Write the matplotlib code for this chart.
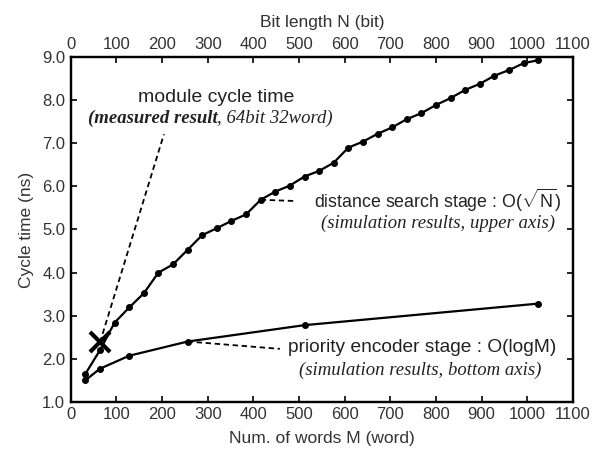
import matplotlib
matplotlib.use("Agg")
import matplotlib.pyplot as plt
from matplotlib.ticker import FormatStrFormatter, MultipleLocator

plt.rcParams['font.family'] = ['Liberation Sans', 'DejaVu Sans']
plt.rcParams['mathtext.fontset'] = 'custom'
plt.rcParams['mathtext.rm'] = 'Liberation Sans'
plt.rcParams['mathtext.it'] = 'Liberation Sans:italic'

# priority encoder stage, bottom axis (words M)
words_m = [32, 64, 128, 256, 512, 1024]
prio_ns = [1.50, 1.77, 2.07, 2.40, 2.78, 3.28]

# distance search stage, upper axis (bit length N)
bits_n = [32, 64, 96, 128, 160, 192, 224, 256, 288, 320, 352, 384, 416, 448,
          480, 512, 544, 576, 608, 640, 672, 704, 736, 768, 800, 832, 864,
          896, 928, 960, 992, 1024]
dist_ns = [1.65, 2.20, 2.84, 3.19, 3.52, 4.00, 4.19, 4.53, 4.87, 5.03, 5.20,
           5.35, 5.69, 5.88, 6.02, 6.23, 6.36, 6.55, 6.90, 7.04, 7.22, 7.37,
           7.56, 7.70, 7.89, 8.05, 8.24, 8.38, 8.57, 8.70, 8.86, 8.93]

# measured module cycle time (64bit 32word)
meas_x = [64]
meas_ns = [2.38]

fig = plt.figure(figsize=(6.05, 4.5), dpi=100)
ax = fig.add_axes([0.117, 0.107, 0.830, 0.766])
ax2 = ax.twiny()

ax.plot(words_m, prio_ns, color='black', lw=1.6, marker='o', ms=4)
ax2.plot(bits_n, dist_ns, color='black', lw=1.6, marker='o', ms=4)
ax.plot(meas_x, meas_ns, color='black', marker='x', ms=14, mew=3, ls='none')

for a in (ax, ax2):
    a.set_xlim(0, 1100)
    a.set_ylim(1.0, 9.0)
    a.xaxis.set_major_locator(MultipleLocator(100))
    for s in a.spines.values():
        s.set_linewidth(1.6)
    a.tick_params(direction='in', length=4, width=1.2, labelsize=12,
                  pad=4, labelcolor='#333333')

ax.yaxis.set_major_locator(MultipleLocator(1.0))
ax.yaxis.set_major_formatter(FormatStrFormatter('%.1f'))
ax.tick_params(axis='y', right=True)

ax.set_xlabel('Num. of words M (word)', fontsize=12.5, labelpad=6,
              color='#333333')
ax.set_ylabel('Cycle time (ns)', fontsize=12.5, labelpad=6, color='#333333')
ax2.set_xlabel('Bit length N (bit)', fontsize=12.5, labelpad=7,
               color='#333333')

serif = ['Liberation Serif', 'DejaVu Serif']
dash = dict(color='black', lw=1.3, ls=(0, (3, 2)))
note = dict(fontsize=13.5, family=serif, style='italic', color='#222222')

# module cycle time
ax.plot([meas_x[0], 204], [meas_ns[0], 7.21], **dash)
ax.text(318, 8.07, 'module cycle time', ha='center', va='center',
        fontsize=14, color='#222222')
t1 = ax.text(37, 7.59, '(measured result', ha='left', va='center',
             weight='bold', **note)
ax.annotate(', 64bit 32word)', xy=(1, 0), xycoords=t1, ha='left',
            va='bottom', **note)

# distance search stage
ax.plot([416, 495], [5.69, 5.66], **dash)
ax.text(804, 5.68, r'distance search stage : O($\sqrt{\mathrm{N}}$)',
        ha='center', va='center', fontsize=12.8, color='#222222')
ax.text(804, 5.14, '(simulation results, upper axis)', ha='center',
        va='center', **note)

# priority encoder stage
ax.plot([256, 458], [2.40, 2.23], **dash)
ax.text(770, 2.25, 'priority encoder stage : O(logM)', ha='center',
        va='center', fontsize=13.8, color='#222222')
ax.text(765, 1.72, '(simulation results, bottom axis)', ha='center',
        va='center', **note)

fig.savefig('out.png', dpi=100)
